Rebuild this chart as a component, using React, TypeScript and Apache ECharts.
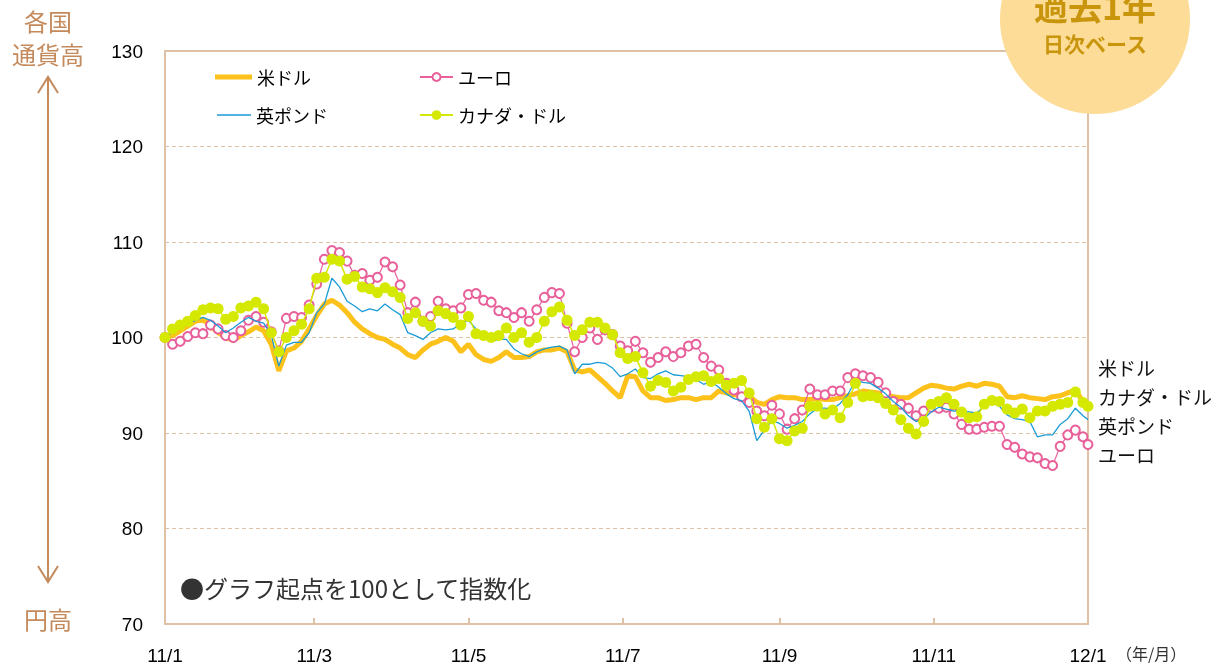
import React, { useEffect, useRef } from "react";
import * as echarts from "echarts";

// x positions: day of the period (0 = 11/1, 365 = 12/1)
const days = [
  0, 3, 6, 9, 12, 15, 18, 21, 24, 27,
  30, 33, 36, 39, 42, 45, 48, 51, 54, 57,
  60, 63, 66, 69, 72, 75, 78, 81, 84, 87,
  90, 93, 96, 99, 102, 105, 108, 111, 114, 117,
  120, 123, 126, 129, 132, 135, 138, 141, 144, 147,
  150, 153, 156, 159, 162, 165, 168, 171, 174, 177,
  180, 183, 186, 189, 192, 195, 198, 201, 204, 207,
  210, 213, 216, 219, 222, 225, 228, 231, 234, 237,
  240, 243, 246, 249, 252, 255, 258, 261, 264, 267,
  270, 273, 276, 279, 282, 285, 288, 291, 294, 297,
  300, 303, 306, 309, 312, 315, 318, 321, 324, 327,
  330, 333, 336, 339, 342, 345, 348, 351, 354, 357,
  360, 363, 365,
];

const usd = [
  100, 100.2, 100.7, 101.2, 101.7, 101.9, 101.2, 100.5, 100, 99.7,
  100.2, 100.6, 101.1, 100.7, 99.3, 96.5, 98.6, 98.9, 99.6, 100.9,
  102.3, 103.5, 103.9, 103.4, 102.6, 101.6, 100.9, 100.4, 100, 99.8,
  99.3, 98.9, 98.2, 97.9, 98.7, 99.3, 99.6, 100, 99.6, 98.5,
  99.3, 98.2, 97.7, 97.5, 97.9, 98.5, 97.9, 97.9, 98, 98.5,
  98.7, 98.7, 98.9, 98.5, 96.6, 96.4, 96.6, 95.9, 95.2, 94.4,
  93.7, 96, 95.9, 94.4, 93.7, 93.7, 93.4, 93.5, 93.7, 93.7,
  93.5, 93.7, 93.7, 94.4, 94.2, 94, 94, 93.9, 93.2, 93,
  93.5, 93.8, 93.7, 93.7, 93.5, 93.5, 93.6, 93.5, 93.5, 93.7,
  93.9, 94.1, 94.4, 94.3, 94.2, 94, 93.8, 93.7, 93.7, 94.2,
  94.7, 95, 94.9, 94.7, 94.6, 94.9, 95.1, 94.9, 95.2, 95.1,
  94.9, 93.8, 93.7, 93.9, 93.7, 93.6, 93.5, 93.8, 93.9, 94.2,
  94.5, 93.3, 93.2,
];

const eur = [
  100, 99.3, 99.6, 100.1, 100.5, 100.4, 101.3, 100.9, 100.2, 100,
  100.7, 101.8, 102.2, 101.6, 100.6, 98.6, 102, 102.2, 102.1, 103.4,
  105.6, 108.2, 109.1, 108.9, 108, 106.5, 106.7, 106, 106.3, 107.9,
  107.4, 105.5, 102.6, 103.7, 101.7, 102.2, 103.8, 103, 102.8, 103.1,
  104.5, 104.6, 103.9, 103.7, 102.8, 102.6, 102.1, 102.6, 101.7, 102.9,
  104.2, 104.7, 104.6, 101.5, 98.5, 100, 101, 99.8, 100.8, 100.3,
  99.1, 98.6, 99.6, 98.4, 97.4, 97.9, 98.5, 98, 98.4, 99.1,
  99.3, 97.9, 97, 96.6, 95.2, 94.5, 93.8, 93.2, 92.3, 91.8,
  92.9, 92, 90.4, 91.5, 92.4, 94.6, 94, 94, 94.4, 94.4,
  95.8, 96.2, 96, 95.8, 95.3, 94.2, 93.3, 93, 92.6, 91.8,
  92.3, 92.7, 92.6, 92.7, 92, 90.9, 90.4, 90.4, 90.6, 90.7,
  90.7, 88.8, 88.5, 87.8, 87.5, 87.4, 86.8, 86.6, 88.6, 89.8,
  90.3, 89.6, 88.8,
];

const gbp = [
  100, 100.6, 101.1, 101.4, 101.8, 102.1, 101.8, 101.2, 100.5, 101,
  101.6, 102.1, 101.7, 101.5, 100.3, 97, 99.2, 99.5, 99.5, 100.5,
  102.6, 103.5, 106.2, 105.3, 103.8, 103.3, 102.7, 103, 102.8, 103.5,
  102.9, 102.4, 100.5, 100.2, 99.8, 100.5, 100.9, 100.8, 100.9, 101.5,
  101.8, 100.9, 100.3, 99.6, 99.8, 99.8, 98.8, 98.3, 98, 98.5,
  98.8, 99, 99.1, 98.7, 96.2, 97.2, 97.2, 97.4, 97.3, 96.8,
  95.9, 96.2, 96.7, 95.8, 95.7, 96.2, 96.5, 96.1, 96, 95.9,
  95.6, 95.1, 95.4, 94.8, 94.1, 93.6, 93.4, 92.3, 89.2, 90.3,
  91.3, 91, 90.5, 90.8, 91.2, 92, 92.6, 92.6, 92.5, 93.1,
  94, 95.5, 95.3, 95.2, 94.7, 94.1, 93.3, 92.7, 91.8, 91.2,
  91.5, 92.2, 92.7, 92.5, 92.3, 92.3, 92.2, 92.1, 92.8, 93.2,
  92.8, 91.9, 91.5, 91.4, 91.2, 89.6, 89.8, 89.8, 90.9, 91.5,
  92.6, 91.8, 91.4,
];

const cad = [
  100, 100.9, 101.3, 101.7, 102.3, 102.9, 103.1, 103, 101.9, 102.2,
  103.1, 103.3, 103.7, 103, 100.5, 98.5, 100, 100.7, 101.4, 103,
  106.2, 106.3, 108.2, 108, 106.1, 106.4, 105.3, 105.1, 104.7, 105.2,
  104.8, 104.2, 102, 102.6, 101.7, 101.2, 102.8, 102.5, 102.1, 101.3,
  102.2, 100.4, 100.2, 100, 100.2, 101, 100, 100.5, 99.5, 100,
  101.7, 102.7, 103.2, 101.8, 100.2, 100.8, 101.6, 101.6, 101, 100.3,
  98.4, 97.8, 98, 96.3, 94.9, 95.5, 95.3, 94.4, 94.8, 95.6,
  95.9, 96, 95.4, 95.7, 95, 95.2, 95.5, 94.2, 91.5, 90.6,
  91.5, 89.4, 89.2, 90.2, 90.5, 92.8, 92.8, 92, 92.4, 91.6,
  93.2, 95.2, 93.8, 93.9, 93.7, 93.1, 92.4, 91.4, 90.5, 89.9,
  91.2, 93, 93.3, 93.7, 93, 92.2, 91.6, 91.7, 93, 93.4,
  93.3, 92.5, 92.1, 92.5, 91.6, 92.3, 92.3, 92.8, 93, 93.2,
  94.3, 93.2, 92.8,
];

const seriesNames = ["米ドル", "ユーロ", "英ポンド", "カナダ・ドル"];
const tickDays = [0, 59, 120, 181, 243, 304, 365];
const tickLabels = ["11/1", "11/3", "11/5", "11/7", "11/9", "11/11", "12/1"];
const endLabels = ["米ドル", "カナダ・ドル", "英ポンド", "ユーロ"];
const Y_MIN = 70;
const Y_MAX = 130;
const Y_STEP = 10;

export default function App() {
  const ref = useRef<HTMLDivElement>(null);

  useEffect(() => {
    if (!ref.current) return;
    const chart = echarts.init(ref.current, null, { renderer: "svg" });
    const pair = (vals: number[]) => days.map((d, i) => [d, vals[i]]);
    const FONT = "'Liberation Sans', 'Noto Sans CJK JP', sans-serif";
    const JP = "'Noto Sans CJK JP', sans-serif";
    const tan = "#dfc2a5";
    const brown = "#c48a5c";
    const gold = "#c8950c";

    const legendBase = {
      itemGap: 4,
      padding: 0,
      textStyle: { fontSize: 18, color: "#000", fontFamily: JP },
    };

    const jpText = (text: string, x: number, y: number, size: number, fill: string, align = "left", weight = "normal") => ({
      type: "text",
      x,
      y,
      z: 101,
      style: {
        text,
        fill,
        font: `${weight} ${size}px 'Noto Sans CJK JP', sans-serif`,
        lineHeight: size,
        align,
        verticalAlign: "middle",
        textAlign: align,
        textVerticalAlign: "middle",
      },
    });

    chart.setOption({
      animation: false,
      grid: {
        left: 165,
        right: 127,
        top: 51,
        bottom: 42,
        show: true,
        borderColor: tan,
        borderWidth: 2,
        backgroundColor: "transparent",
      },
      xAxis: {
        type: "value",
        min: 0,
        max: 365,
        axisLine: { show: false },
        splitLine: { show: false },
        axisTick: {
          show: true,
          inside: true,
          length: 6,
          customValues: tickDays,
          lineStyle: { color: tan, width: 2 },
        },
        axisLabel: {
          customValues: tickDays,
          formatter: (v: number) => {
            const i = tickDays.indexOf(v);
            return i >= 0 ? tickLabels[i] : "";
          },
          fontSize: 19,
          color: "#000",
          fontFamily: FONT,
          margin: 22,
        },
      },
      yAxis: {
        type: "value",
        min: Y_MIN,
        max: Y_MAX,
        interval: Y_STEP,
        axisLine: { show: false },
        axisTick: { show: false },
        splitLine: { show: true, lineStyle: { color: tan, type: [4, 3], width: 1 } },
        axisLabel: { fontSize: 19, color: "#000", fontFamily: FONT, margin: 22 },
      },
      legend: [
        { ...legendBase, data: [{ name: seriesNames[0], icon: "rect" }], left: 215, top: 68, itemWidth: 37, itemHeight: 5 },
        { ...legendBase, data: [seriesNames[1]], left: 419, top: 68, itemWidth: 33, itemHeight: 10 },
        { ...legendBase, data: [{ name: seriesNames[2], icon: "rect" }], left: 217, top: 106, itemWidth: 34, itemHeight: 1.5 },
        { ...legendBase, data: [seriesNames[3]], left: 419, top: 106, itemWidth: 33, itemHeight: 12 },
      ],
      series: [
        {
          name: seriesNames[0],
          type: "line",
          data: pair(usd),
          symbol: "none",
          lineStyle: { color: "#fcc21b", width: 5 },
          itemStyle: { color: "#fcc21b" },
          z: 2,
        },
        {
          name: seriesNames[1],
          type: "line",
          data: pair(eur),
          symbol: "emptyCircle",
          symbolSize: 9,
          lineStyle: { color: "#e8609a", width: 1.2 },
          itemStyle: { color: "#e8609a", borderColor: "#e8609a", borderWidth: 1.3 },
          z: 3,
        },
        {
          name: seriesNames[2],
          type: "line",
          data: pair(gbp),
          symbol: "none",
          lineStyle: { color: "#1a9bd7", width: 1.3 },
          itemStyle: { color: "#1a9bd7" },
          z: 4,
        },
        {
          name: seriesNames[3],
          type: "line",
          data: pair(cad),
          symbol: "circle",
          symbolSize: 11,
          lineStyle: { color: "#d5e800", width: 1.5 },
          itemStyle: { color: "#d5e800" },
          z: 5,
        },
      ],
      graphic: [
        { type: "circle", z: 100, shape: { cx: 1095, cy: 19, r: 95 }, style: { fill: "#fddc97" } },
        jpText("過去1年", 1095, 5, 34, gold, "center", "bold"),
        jpText("日次ベース", 1095, 43, 21, gold, "center", "bold"),
        jpText("各国", 48, 20, 24, brown, "center"),
        jpText("通貨高", 48, 53, 24, brown, "center"),
        jpText("円高", 48, 618, 24, brown, "center"),
        {
          type: "line",
          z: 100,
          shape: { x1: 48, y1: 77, x2: 48, y2: 582 },
          style: { stroke: brown, lineWidth: 2 },
        },
        {
          type: "polyline",
          z: 100,
          shape: { points: [[38, 93], [48, 77], [58, 93]] },
          style: { stroke: brown, lineWidth: 2, fill: "none" },
        },
        {
          type: "polyline",
          z: 100,
          shape: { points: [[38, 566], [48, 582], [58, 566]] },
          style: { stroke: brown, lineWidth: 2, fill: "none" },
        },
        jpText("●グラフ起点を100として指数化", 180, 587, 24, "#333"),
        ...endLabels.map((t, i) => jpText(t, 1098, 367 + i * 29, 19, "#111")),
        jpText("（年/月）", 1116, 653, 16, "#333"),
      ],
    });

    return () => chart.dispose();
  }, []);

  return <div ref={ref} style={{ position: "fixed", left: 0, top: 0, width: 1215, height: 666 }} />;
}
